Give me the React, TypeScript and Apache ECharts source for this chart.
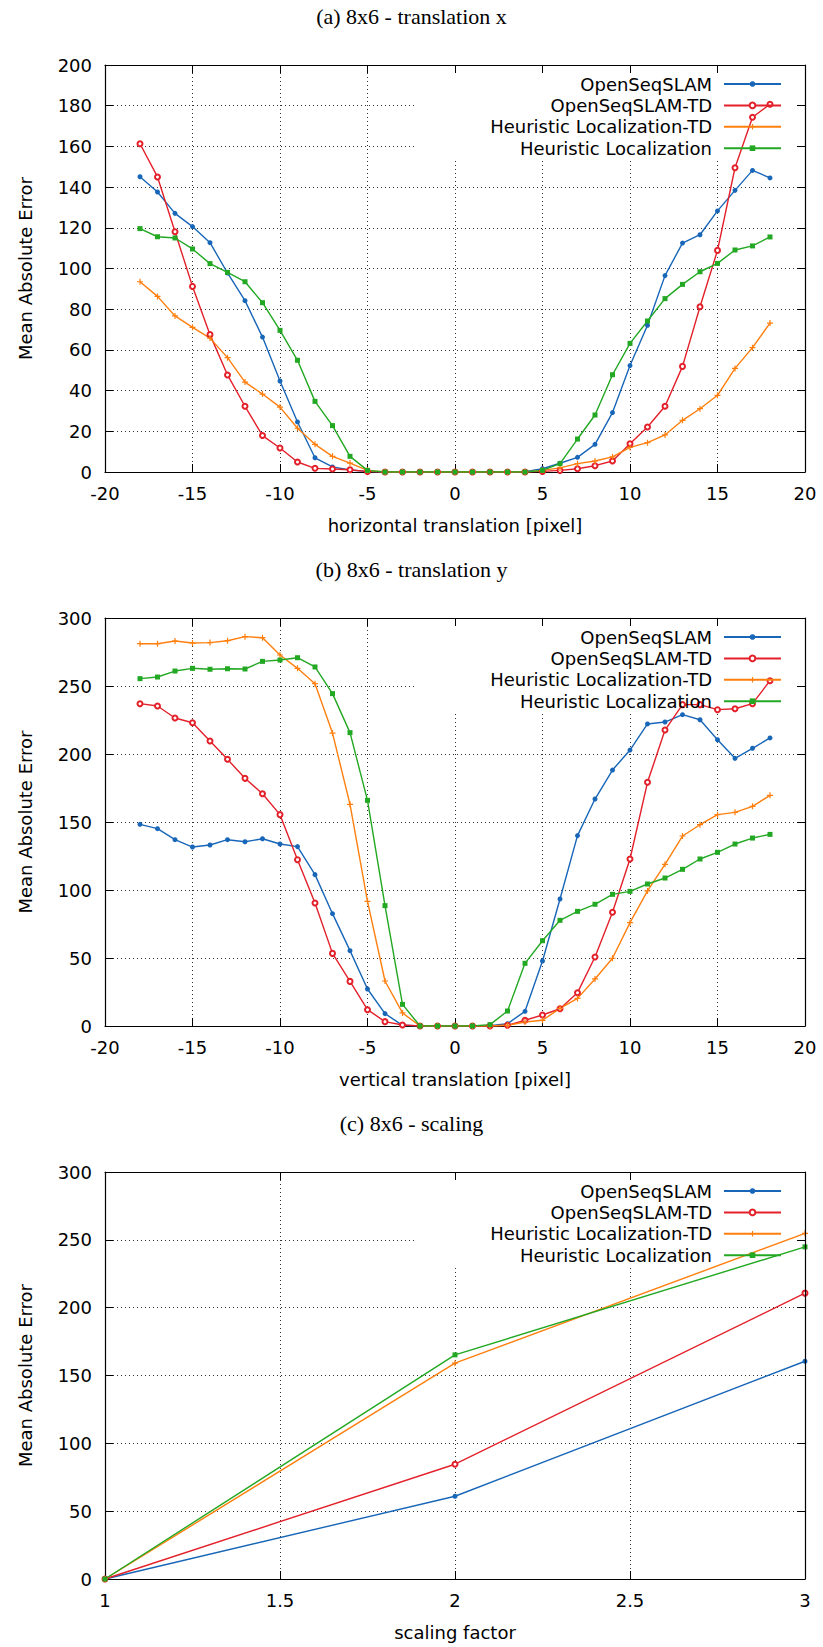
import React, { useEffect, useRef } from "react";
import * as echarts from "echarts";

// ---------- data ----------
const seriesNames = [
  "OpenSeqSLAM",
  "OpenSeqSLAM-TD",
  "Heuristic Localization-TD",
  "Heuristic Localization",
];

const panelTitles = [
  "(a) 8x6 - translation x",
  "(b) 8x6 - translation y",
  "(c) 8x6 - scaling",
];
const xAxisNames = [
  "horizontal translation [pixel]",
  "vertical translation [pixel]",
  "scaling factor",
];
const yAxisName = "Mean Absolute Error";

// translation steps in pixels (-18 .. 18)
const translationSteps = [
  -18, -17, -16, -15, -14, -13, -12, -11, -10, -9, -8, -7, -6, -5, -4, -3, -2, -1,
  0, 1, 2, 3, 4, 5, 6, 7, 8, 9, 10, 11, 12, 13, 14, 15, 16, 17, 18,
];

// (a) translation x
const txOpenSeqSLAM = [
  145.1, 137.6, 127.1, 120.6, 112.7, 97.8, 84.2, 66.3, 44.7, 24.6, 7.0, 2.5, 1.0, 0.3,
  0, 0, 0, 0, 0, 0, 0, 0, 0.1,
  1.6, 4.3, 7.2, 13.6, 29.2, 52.3, 72.1, 96.5, 112.5, 116.6, 128.3, 138.4, 148.2, 144.5,
];
const txOpenSeqSLAMTD = [
  161.3, 145.0, 118.1, 91.2, 67.5, 47.7, 32.3, 17.9, 11.8, 4.9, 1.8, 1.5, 1.1, 0.2,
  0, 0, 0, 0, 0, 0, 0, 0, 0,
  0.3, 0.8, 1.6, 3.1, 5.4, 13.9, 22.1, 32.3, 51.9, 81.2, 108.9, 149.5, 174.3, 180.7,
];
const txHeuristicTD = [
  93.5, 86.3, 76.7, 71.1, 65.8, 56.2, 44.2, 38.3, 31.9, 21.5, 13.6, 7.7, 4.4, 0.8,
  0, 0, 0, 0, 0, 0, 0, 0, 0,
  0.8, 2.0, 4.1, 5.4, 7.4, 12.1, 14.4, 18.2, 25.4, 31.1, 37.7, 50.9, 61.1, 73.2,
];
const txHeuristic = [
  119.6, 115.6, 115.0, 109.6, 102.4, 98.1, 93.5, 83.2, 69.6, 54.9, 34.7, 22.8, 7.7, 0.8,
  0, 0, 0, 0, 0, 0, 0, 0, 0,
  0.8, 4.1, 16.2, 28.0, 47.8, 63.2, 74.2, 85.2, 92.2, 98.4, 102.5, 109.1, 111.1, 115.5,
];

// (b) translation y
const tyOpenSeqSLAM = [
  148.3, 145.1, 137.0, 131.6, 133.1, 137.0, 135.5, 137.7, 133.8, 131.9, 111.3, 82.6, 55.4,
  27.2, 9.1, 0.5,
  0, 0, 0, 0, 0.3,
  1.7, 10.8, 47.8, 93.4, 140.0, 166.9, 188.2, 202.9, 222.1, 223.5, 228.9, 225.2, 210.5,
  196.8, 204.2, 211.8,
];
const tyOpenSeqSLAMTD = [
  237.0, 235.3, 226.5, 223.0, 209.6, 196.1, 182.1, 170.8, 155.4, 122.3, 90.4, 53.4, 32.8,
  12.0, 3.2, 0.7,
  0, 0, 0, 0, 0,
  0.5, 4.2, 8.1, 12.7, 24.5, 50.7, 83.6, 122.8, 179.2, 217.6, 236.3, 236.3, 232.6, 233.3,
  237.0, 253.9,
];
const tyHeuristicTD = [
  281.1, 281.1, 283.1, 281.6, 281.9, 283.3, 286.3, 285.5, 272.8, 263.0, 251.7, 215.4, 163.0,
  91.7, 33.1, 9.6,
  0, 0, 0, 0, 0,
  0.5, 2.9, 4.2, 13.0, 20.3, 34.6, 49.8, 76.0, 99.3, 118.9, 139.7, 148.0, 155.4, 157.1,
  161.5, 169.6,
];
const tyHeuristic = [
  255.4, 256.6, 261.0, 263.0, 262.3, 262.7, 262.5, 268.1, 269.1, 270.8, 264.0, 244.4, 215.7,
  165.9, 88.5, 15.9,
  0, 0, 0, 0, 1.0,
  11.0, 46.1, 62.7, 77.7, 84.3, 89.5, 96.8, 99.0, 104.4, 108.8, 115.2, 122.8, 127.7, 133.8,
  138.2, 140.9,
];

// (c) scaling
const scalingFactors = [1, 2, 3];
const scOpenSeqSLAM = [0, 61.0, 160.5];
const scOpenSeqSLAMTD = [0, 84.6, 210.7];
const scHeuristicTD = [0, 159.1, 254.8];
const scHeuristic = [0, 165.2, 244.8];

// axis ranges
const xRanges = [
  { min: -20, max: 20, interval: 5 },
  { min: -20, max: 20, interval: 5 },
  { min: 1, max: 3, interval: 0.5 },
];
const yRanges = [
  { min: 0, max: 200, interval: 20 },
  { min: 0, max: 300, interval: 50 },
  { min: 0, max: 300, interval: 50 },
];

const panelX = [translationSteps, translationSteps, scalingFactors];
const panelValues = [
  [txOpenSeqSLAM, txOpenSeqSLAMTD, txHeuristicTD, txHeuristic],
  [tyOpenSeqSLAM, tyOpenSeqSLAMTD, tyHeuristicTD, tyHeuristic],
  [scOpenSeqSLAM, scOpenSeqSLAMTD, scHeuristicTD, scHeuristic],
];

// ---------- styling ----------
const SANS = '"DejaVu Sans", sans-serif';
const SERIF = '"Liberation Serif", serif';
const colors = ["#1866b8", "#e3202a", "#ff7f0e", "#22a822"];
const PLUS = "path://M4,0h2v4h4v2h-4v4h-2v-4h-4v-2h4z";
const symbols = ["circle", "emptyCircle", PLUS, "rect"];
const symbolSizes = [5, 5, 6, 5];

const GRID_LEFT = 105;
const GRID_WIDTH = 700;
const gridTops = [65, 618, 1172];
const gridHeights = [407, 408, 407];

function buildOption() {
  const grid: any[] = [];
  const xAxis: any[] = [];
  const yAxis: any[] = [];
  const series: any[] = [];
  const legend: any[] = [];
  const title: any[] = [];
  const graphics: any[] = [];

  for (let g = 0; g < 3; g++) {
    const top = gridTops[g];
    const h = gridHeights[g];
    grid.push({ left: GRID_LEFT, top, width: GRID_WIDTH, height: h, containLabel: false });

    title.push({
      text: panelTitles[g],
      left: "center",
      top: top - 60,
      padding: 0,
      textStyle: { fontFamily: SERIF, fontSize: 22, fontWeight: "normal", color: "#000" },
    });

    const tickStyle = { show: true, inside: true, length: 8, lineStyle: { color: "#000", width: 1 } };
    const axisLineStyle = { show: true, lineStyle: { color: "#000", width: 1.2 } };
    const splitStyle = { show: true, lineStyle: { type: [1, 3], color: "#333", width: 1 } };

    // main x axis
    xAxis.push({
      type: "value",
      gridIndex: g,
      ...xRanges[g],
      position: "bottom",
      z: 0,
      axisLine: { ...axisLineStyle, onZero: false },
      axisTick: tickStyle,
      splitLine: splitStyle,
      axisLabel: { fontFamily: SANS, fontSize: 18, color: "#000", margin: 12 },
      name: xAxisNames[g],
      nameLocation: "middle",
      nameGap: 44,
      nameTextStyle: { fontFamily: SANS, fontSize: 18, color: "#000" },
    });
    // mirror x axis (top)
    xAxis.push({
      type: "value",
      gridIndex: g,
      ...xRanges[g],
      position: "top",
      z: 3,
      axisLine: { ...axisLineStyle, onZero: false },
      axisTick: tickStyle,
      splitLine: { show: false },
      axisLabel: { show: false },
    });
    // main y axis
    yAxis.push({
      type: "value",
      gridIndex: g,
      ...yRanges[g],
      position: "left",
      z: 0,
      axisLine: { ...axisLineStyle, onZero: false },
      axisTick: tickStyle,
      splitLine: splitStyle,
      axisLabel: { fontFamily: SANS, fontSize: 18, color: "#000", margin: 13 },
      name: yAxisName,
      nameLocation: "middle",
      nameGap: 71,
      nameTextStyle: { fontFamily: SANS, fontSize: 18, color: "#000" },
    });
    // mirror y axis (right)
    yAxis.push({
      type: "value",
      gridIndex: g,
      ...yRanges[g],
      position: "right",
      z: 3,
      axisLine: { ...axisLineStyle, onZero: false },
      axisTick: tickStyle,
      splitLine: { show: false },
      axisLabel: { show: false },
    });

    for (let s = 0; s < 4; s++) {
      const xs = panelX[g];
      const vals = panelValues[g][s];
      series.push({
        type: "line",
        name: seriesNames[s],
        xAxisIndex: 2 * g,
        yAxisIndex: 2 * g,
        data: xs.map((x, i) => [x, vals[i]]),
        symbol: symbols[s],
        symbolSize: symbolSizes[s],
        showSymbol: true,
        showAllSymbol: true,
        color: colors[s],
        lineStyle: { color: colors[s], width: 1.4 },
        itemStyle: { color: colors[s], borderWidth: s === 1 ? 1.1 : 0 },
        z: 2,
        emphasis: { disabled: true },
      });
    }

    legend.push({
      data: seriesNames,
      orient: "vertical",
      align: "right",
      right: 41,
      top: top + 10,
      padding: 0,
      itemWidth: 57,
      itemHeight: 7,
      itemGap: 3.4,
      selectedMode: false,
      textStyle: { fontFamily: SANS, fontSize: 18, color: "#000", padding: [0, 7, 0, 0] },
    });

    // opaque key box (hides grid lines behind the key, like gnuplot)
    graphics.push({
      type: "rect",
      z: 1,
      shape: { x: 417, y: top + 1, width: GRID_LEFT + GRID_WIDTH - 417 - 1, height: 94 },
      style: { fill: "#fff" },
      silent: true,
    });
  }

  return {
    animation: false,
    backgroundColor: "#fff",
    title,
    grid,
    xAxis,
    yAxis,
    legend,
    series,
    graphic: { elements: graphics },
  };
}

export default function App() {
  const ref = useRef<HTMLDivElement>(null);
  useEffect(() => {
    if (!ref.current) return;
    const chart = echarts.init(ref.current, null, { renderer: "svg" });
    chart.setOption(buildOption() as any);
    return () => chart.dispose();
  }, []);
  return (
    <div
      ref={ref}
      style={{ position: "absolute", left: 0, top: 0, width: 823, height: 1647, background: "#fff" }}
    />
  );
}
